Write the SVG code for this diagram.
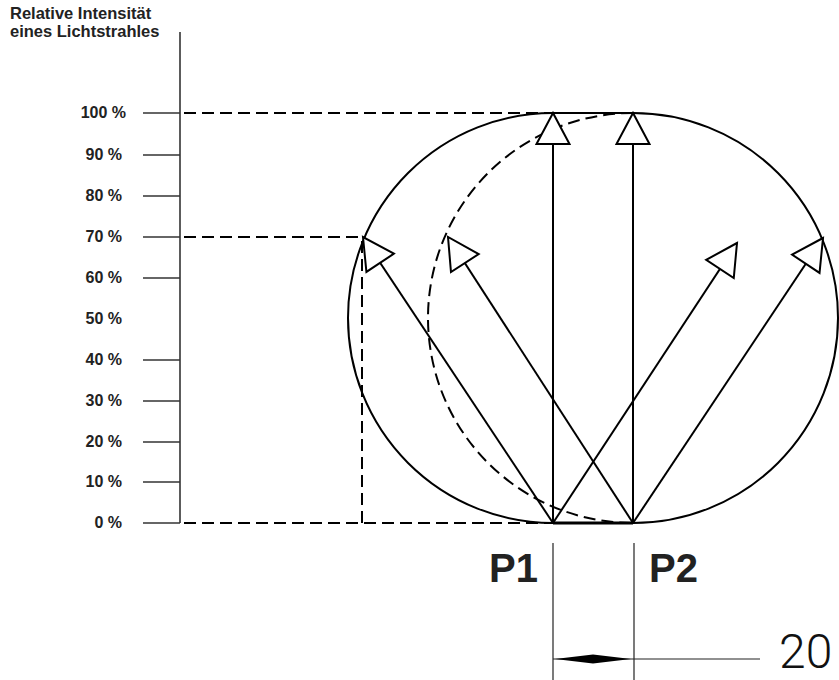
<svg xmlns="http://www.w3.org/2000/svg" width="839" height="680" viewBox="0 0 839 680">
<style>
.lbl{font-family:"Liberation Sans",Arial,sans-serif;font-weight:bold;fill:#222}
.tick{font-size:16px;text-anchor:end}
.ttl{font-size:16.5px}
.ax{stroke:#333;stroke-width:1.6;fill:none}
.ln{stroke:#000;stroke-width:2;fill:none}
.dash{stroke:#000;stroke-width:2;fill:none;stroke-dasharray:12 6}
.thin{stroke:#222;stroke-width:1.2;fill:none}
</style>
<defs>
<marker id="ah" markerUnits="userSpaceOnUse" markerWidth="40" markerHeight="40" viewBox="-36 -20 40 40" refX="0" refY="0" orient="auto">
<path d="M0,0 L-31,-16.5 L-31,16.5 Z" fill="#fff" stroke="#000" stroke-width="2" stroke-linejoin="miter"/>
</marker>
</defs>
<rect width="839" height="680" fill="#fff"/>
<g id="title">
<text class="lbl ttl" x="10" y="19">Relative Intensität</text>
<text class="lbl ttl" x="10" y="37">eines Lichtstrahles</text>
</g>
<g id="axis">
<line class="ax" x1="180" y1="32" x2="180" y2="523"/>
<g class="ax">
<line x1="143" y1="113" x2="180" y2="113"/>
<line x1="143" y1="155" x2="180" y2="155"/>
<line x1="143" y1="196" x2="180" y2="196"/>
<line x1="143" y1="237" x2="180" y2="237"/>
<line x1="143" y1="278" x2="180" y2="278"/>
<line x1="143" y1="360" x2="180" y2="360"/>
<line x1="143" y1="401" x2="180" y2="401"/>
<line x1="143" y1="442" x2="180" y2="442"/>
<line x1="143" y1="482" x2="180" y2="482"/>
<line x1="143" y1="523" x2="180" y2="523"/>
</g>
<g class="lbl tick">
<text x="126" y="118">100 %</text>
<text x="122" y="160">90 %</text>
<text x="122" y="201">80 %</text>
<text x="122" y="242">70 %</text>
<text x="122" y="283">60 %</text>
<text x="122" y="324">50 %</text>
<text x="122" y="365">40 %</text>
<text x="122" y="406">30 %</text>
<text x="122" y="447">20 %</text>
<text x="122" y="487">10 %</text>
<text x="122" y="528">0 %</text>
</g>
</g>
<g id="guides">
<line class="dash" x1="184" y1="113" x2="553" y2="113"/>
<line class="dash" x1="184" y1="237" x2="362" y2="237"/>
<line class="dash" x1="362" y1="241" x2="362" y2="523"/>
<line class="dash" x1="184" y1="523" x2="553" y2="523"/>
<path class="dash" d="M633,113 A205,205 0 0 0 633,523" stroke-dasharray="10 7"/>
</g>
<g id="outline">
<path class="ln" d="M553,113 L633,113 A205,205 0 0 1 633,523 L553,523 A205,205 0 0 1 553,113 Z"/>
<line x1="553" y1="523" x2="633" y2="523" stroke="#000" stroke-width="3"/>
</g>
<g id="connectors">
<line class="ln" x1="553" y1="523" x2="553" y2="113" marker-end="url(#ah)"/>
<line class="ln" x1="553" y1="523" x2="363" y2="237" marker-end="url(#ah)"/>
<line class="ln" x1="553" y1="523" x2="737" y2="243" marker-end="url(#ah)"/>
<line class="ln" x1="633" y1="523" x2="633" y2="113" marker-end="url(#ah)"/>
<line class="ln" x1="633" y1="523" x2="448" y2="237" marker-end="url(#ah)"/>
<line class="ln" x1="633" y1="523" x2="823" y2="238" marker-end="url(#ah)"/>
</g>
<g id="P1"><text class="lbl" x="489" y="582" font-size="40" fill="#000">P1</text></g>
<g id="P2"><text class="lbl" x="649" y="582" font-size="40" fill="#000">P2</text></g>
<g id="dimension">
<line class="thin" x1="553" y1="543" x2="553" y2="680"/>
<line class="thin" x1="634" y1="543" x2="634" y2="680"/>
<line class="thin" x1="553" y1="659" x2="760" y2="659"/>
<polygon points="555,659 593,654.5 631,659 593,663.5" fill="#000"/>
<text x="779" y="668" font-family="Roboto,'Liberation Sans',sans-serif" font-weight="300" font-size="48" fill="#111">20</text>
</g>
</svg>
